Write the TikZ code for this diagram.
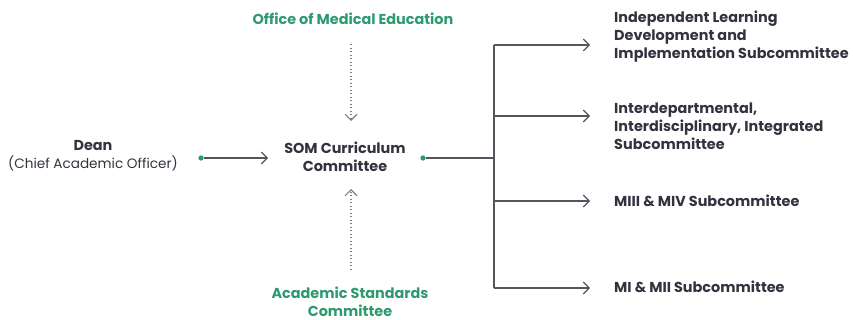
\documentclass[tikz,border=0pt]{standalone}
\usepackage{fontspec}
\setmainfont{Poppins}
\usetikzlibrary{calc,arrows.meta}
\definecolor{somgreen}{HTML}{2E9A70}
\definecolor{somtext}{HTML}{33333F}
\definecolor{somline}{HTML}{55555F}

\begin{document}
\begin{tikzpicture}[x=0.03cm,y=-0.03cm,
    lbl/.style={font=\fontsize{12.3}{15.3}\selectfont\bfseries, text=somtext, align=left, inner sep=0pt},
    grn/.style={font=\fontsize{12.3}{15.3}\selectfont\bfseries, text=somgreen, align=center, inner sep=0pt},
    gdot/.style={circle, fill=somgreen, inner sep=0pt, minimum size=4.5pt},
    arr/.style={draw=somline, line width=1pt, -{Straight Barb[length=5pt,width=10pt]}},
    dots/.style={draw=somline!75, dotted, line width=1pt, -{Straight Barb[length=5pt,width=10pt]}}]
  \useasboundingbox (0,0) rectangle (853,320);

  %% Left side: dean into the committee
  \node[lbl, align=center] (dean) at (93,156) {Dean\\{\mdseries\fontsize{11.6}{15.3}\selectfont (Chief Academic Officer)}};
  \node[gdot] (deandot) at (201,158) {};
  \coordinate (somin) at (268,158);
  \node[lbl, align=center] (som) at (345,157) {SOM Curriculum\\Committee};
  \draw[arr] (deandot) -- (somin);

  %% Advisory bodies above and below
  \node[grn] (ome) at (353,19) {Office of Medical Education};
  \node[grn] (asc) at (350,302) {Academic Standards\\Committee};
  \coordinate (omeA) at (351,44);
  \coordinate (omeB) at (351,121);
  \coordinate (ascA) at (351,270);
  \coordinate (ascB) at (351,189);
  \draw[dots] (omeA) -- (omeB);
  \draw[dots] (ascA) -- (ascB);

  %% Right side: the subcommittees
  \node[gdot] (somdot) at (423,158) {};
  \coordinate (hub) at (494,158);
  \draw[draw=somline, line width=1pt] (somdot) -- (hub);
  \foreach \i/\ya/\yl/\txt in {1/45/37/{Independent Learning\\Development and\\Implementation Subcommittee},
                               2/116/126/{Interdepartmental,\\Interdisciplinary, Integrated\\Subcommittee},
                               3/201/201/{MIII \& MIV Subcommittee},
                               4/288/287/{MI \& MII Subcommittee}}
  {
    \coordinate (br\i) at (494,\ya);
    \coordinate (tip\i) at (590,\ya);
    \node[lbl, anchor=west] (sub\i) at (614,\yl) {\txt};
    \draw[arr] (br\i) -- (tip\i);
  }
  \draw[draw=somline, line width=1pt] (br1) -- (br4);
\end{tikzpicture}
\end{document}
